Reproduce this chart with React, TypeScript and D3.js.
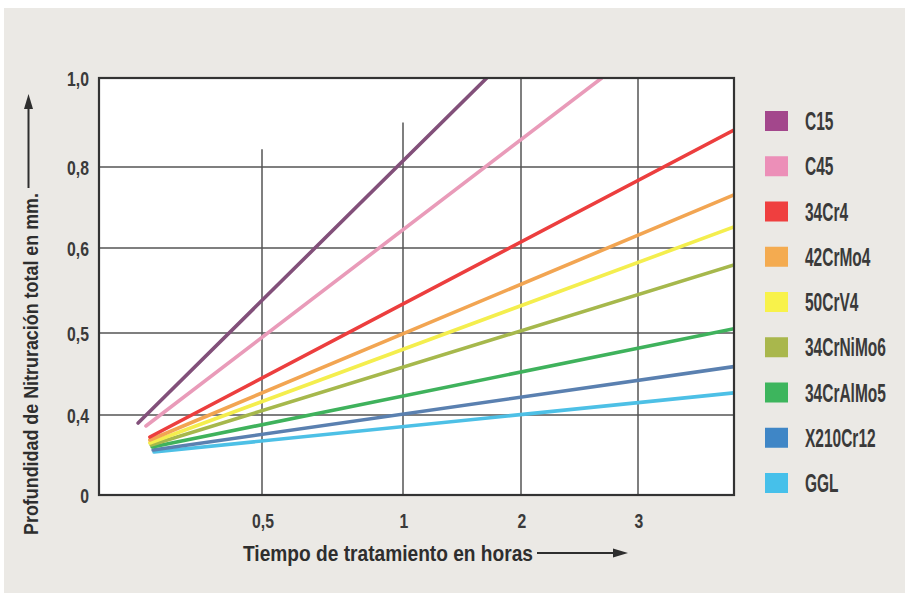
import React from "react";
import * as d3 from "d3";

// ---------- data ----------
const seriesNames = ["C15", "C45", "34Cr4", "42CrMo4", "50CrV4", "34CrNiMo6", "34CrAlMo5", "X210Cr12", "GGL"];
const lineColors = ["#82507a", "#e99bb9", "#ec3e3e", "#f2a552", "#f4ee4e", "#a6b84c", "#3fb25c", "#5a80b0", "#4dc0e6"];
const swatchColors = ["#a3478c", "#ec8fb8", "#ef3f3f", "#f4ab50", "#f8f24a", "#a9b74c", "#3db55d", "#3f86c6", "#46c0ea"];
// start and end of each straight line (hours, mm)
const startHours = [0.12, 0.144, 0.156, 0.156, 0.156, 0.16, 0.163, 0.166, 0.169];
const startDepth = [0.36, 0.345, 0.29, 0.275, 0.26, 0.25, 0.24, 0.225, 0.215];
const endHours = [1.71, 2.69, 3.82, 3.82, 3.82, 3.82, 3.82, 3.82, 3.82];
const endDepth = [1.0, 1.0, 0.883, 0.731, 0.652, 0.58, 0.505, 0.459, 0.427];

const xTicks = [0.5, 1, 2, 3];
const xTickLabels = ["0,5", "1", "2", "3"];
const xGridTop = [0.84, 0.9, 1.0, 1.0];
const yTicks = [0, 0.4, 0.5, 0.6, 0.8, 1.0];
const yTickLabels = ["0", "0,4", "0,5", "0,6", "0,8", "1,0"];

const xTitle = "Tiempo de tratamiento en horas";
const yTitle = "Profundidad de Nitruración total en mm.";

// ---------- layout ----------
const W = 905, H = 593;
const left = 99, right = 734, top = 78, bottom = 495;

const x = d3.scaleLinear().domain([0, 0.5, 1, 2, 3, 4]).range([left, 262, 403, 521, 638, 755]);
const y = d3.scaleLinear().domain([0, 0.4, 0.5, 0.6, 0.8, 1.0]).range([bottom, 415, 333, 248, 167, top]);

const line = d3.line<[number, number]>().x(d => x(d[0])).y(d => y(d[1]));

const font = "'Liberation Sans', Arial, sans-serif";
const textCol = "#2e2e2e";

export default function App() {
  const order = d3.range(seriesNames.length).reverse();
  return (
    <svg width={W} height={H} style={{ position: "absolute", left: 0, top: 0, background: "#fff" }}>
      <defs>
        <clipPath id="plot">
          <rect x={left} y={top} width={right - left} height={bottom - top} />
        </clipPath>
      </defs>
      <rect x={4} y={8} width={W - 4} height={H - 8} fill="#ebe9e5" />
      <rect x={left} y={top} width={right - left} height={bottom - top} fill="#fff" />

      {/* horizontal gridlines */}
      {yTicks.filter(v => v > 0 && v < 1).map(v => (
        <line key={"h" + v} x1={left} x2={right} y1={y(v)} y2={y(v)} stroke="#555" strokeWidth={1.5} />
      ))}
      {/* vertical gridlines */}
      {xTicks.map((v, i) => (
        <line key={"v" + v} x1={x(v)} x2={x(v)} y1={y(xGridTop[i])} y2={bottom} stroke="#555" strokeWidth={1.5} />
      ))}

      {/* series */}
      <g clipPath="url(#plot)">
        {order.map(i => (
          <path
            key={seriesNames[i]}
            d={line([[startHours[i], startDepth[i]], [endHours[i], endDepth[i]]]) || ""}
            fill="none"
            stroke={lineColors[i]}
            strokeWidth={3.6}
            strokeLinecap="round"
          />
        ))}
      </g>

      {/* frame */}
      <rect x={left} y={top} width={right - left} height={bottom - top} fill="none" stroke="#333" strokeWidth={2.2} />

      {/* y tick labels */}
      {yTicks.map((v, i) => (
        <g key={"yl" + v} transform={`translate(89,${y(v) + 7.5}) scale(0.75,1)`}>
          <text textAnchor="end" fontFamily={font} fontWeight="bold" fontSize={21} fill="#3a3a3a">{yTickLabels[i]}</text>
        </g>
      ))}
      {/* x tick labels */}
      {xTicks.map((v, i) => (
        <g key={"xl" + v} transform={`translate(${x(v) + 1},528) scale(0.75,1)`}>
          <text textAnchor="middle" fontFamily={font} fontWeight="bold" fontSize={21} fill="#3a3a3a">{xTickLabels[i]}</text>
        </g>
      ))}

      {/* x title */}
      <text x={243} y={561} fontFamily={font} fontWeight="bold" fontSize={22} fill={textCol}
        textLength={290} lengthAdjust="spacingAndGlyphs">{xTitle}</text>
      <line x1={537} x2={616} y1={553} y2={553} stroke={textCol} strokeWidth={2} />
      <path d="M628,553 L613,548.5 L613,557.5 Z" fill={textCol} />

      {/* y title */}
      <text transform="translate(38,535) rotate(-90)" fontFamily={font} fontWeight="bold" fontSize={20} fill={textCol}
        textLength={342} lengthAdjust="spacingAndGlyphs">{yTitle}</text>
      <line x1={28.5} x2={28.5} y1={188} y2={106} stroke={textCol} strokeWidth={2} />
      <path d="M28.5,94 L24,109 L33,109 Z" fill={textCol} />

      {/* legend */}
      {seriesNames.map((n, i) => {
        const cy = 121 + i * 45.25;
        return (
          <g key={"lg" + n}>
            <rect x={765} y={cy - 10} width={23} height={20} fill={swatchColors[i]} />
            <g transform={`translate(805,${cy + 9}) scale(0.62,1)`}>
              <text fontFamily={font} fontWeight="bold" fontSize={25} fill="#3a3a3a">{n}</text>
            </g>
          </g>
        );
      })}
    </svg>
  );
}
